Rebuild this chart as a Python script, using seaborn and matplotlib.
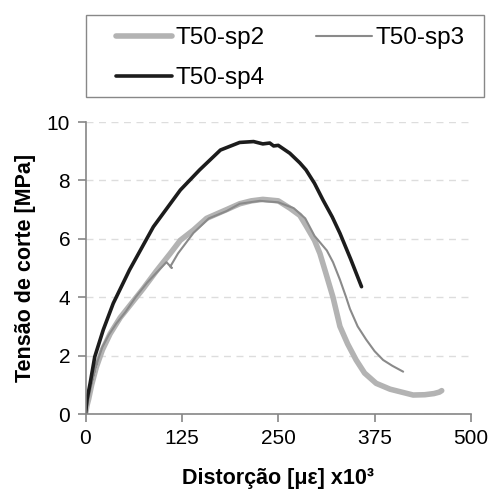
import matplotlib
matplotlib.use("Agg")
import matplotlib.pyplot as plt
from matplotlib.patches import Rectangle
import seaborn as sns
import pandas as pd

# Data
sp2_x = [0, 2, 4, 8, 14, 22, 32, 45, 57, 75, 92, 110, 123, 140, 157, 183, 200, 215, 230, 250, 265, 278, 286, 297, 304, 312, 321, 330, 340, 351, 362, 377, 395, 410, 425, 440, 452, 459, 462]
sp2_y = [0, 0.3, 0.5, 1.0, 1.6, 2.2, 2.75, 3.3, 3.7, 4.3, 4.9, 5.5, 5.95, 6.3, 6.7, 7.0, 7.2, 7.3, 7.35, 7.3, 7.05, 6.8, 6.45, 5.95, 5.5, 4.8, 4.0, 3.0, 2.4, 1.85, 1.4, 1.05, 0.85, 0.75, 0.65, 0.66, 0.7, 0.75, 0.8]

sp3_x = [0, 3, 6, 9, 7, 12, 10, 15, 13, 18, 22, 30, 40, 52, 65, 80, 96, 105, 112, 110, 120, 140, 160, 183, 200, 226, 250, 270, 285, 297, 305, 313, 321, 330, 338, 343, 353, 364, 375, 386, 398, 412]
sp3_y = [0, 0.4, 0.8, 1.2, 1.0, 1.5, 1.3, 1.8, 1.6, 2.0, 2.3, 2.7, 3.1, 3.5, 4.0, 4.5, 4.95, 5.2, 5.0, 5.05, 5.5, 6.2, 6.7, 6.95, 7.2, 7.3, 7.25, 7.05, 6.7, 6.1, 5.85, 5.6, 5.2, 4.6, 4.0, 3.6, 3.0, 2.55, 2.15, 1.85, 1.65, 1.45]

sp4_x = [0, 2, 6, 12, 23, 36, 57, 88, 123, 148, 175, 200, 218, 230, 239, 244, 250, 265, 278, 286, 297, 308, 320, 330, 344, 358]
sp4_y = [0, 0.5, 1.05, 1.96, 2.88, 3.79, 4.93, 6.41, 7.67, 8.36, 9.04, 9.30, 9.33, 9.25, 9.28, 9.18, 9.2, 8.93, 8.6, 8.36, 7.9, 7.33, 6.75, 6.19, 5.3, 4.36]

labels = ["T50-sp2", "T50-sp3", "T50-sp4"]
x_ticks = [0, 125, 250, 375, 500]
y_ticks = [0, 2, 4, 6, 8, 10]

sns.set_style("white")
plt.rcParams['font.family'] = ['Liberation Sans', 'DejaVu Sans']
plt.rcParams['text.color'] = 'black'
plt.rcParams['axes.labelcolor'] = 'black'
plt.rcParams['xtick.color'] = 'black'
plt.rcParams['ytick.color'] = 'black'

W, H = 492, 501
fig = plt.figure(figsize=(W/100, H/100), dpi=100)
ax = fig.add_axes([85.5/W, 87/H, (471-85.5)/W, (414-122)/H])

styles = [("#b3b3b3", 4.0), ("#8a8a8a", 1.5), ("#1c1c1c", 2.6)]
for (xs, ys), lab, (c, lw) in zip([(sp2_x, sp2_y), (sp3_x, sp3_y), (sp4_x, sp4_y)], labels, styles):
    df = pd.DataFrame({"x": xs, "y": ys})
    sns.lineplot(data=df, x="x", y="y", sort=False, estimator=None, color=c, linewidth=lw,
                 ax=ax, label=lab, solid_capstyle='round')

h, l = ax.get_legend_handles_labels()
ax.get_legend().remove()
order = [0, 2, 1]
fig.legend([h[i] for i in order], [l[i] for i in order], ncol=2, loc='upper left',
           bbox_to_anchor=(116/W, 1-27/H),
           fontsize=17.5, frameon=False, handlelength=2.3,
           handletextpad=0.15, borderaxespad=0, borderpad=0, labelspacing=0.75,
           columnspacing=2.1)
fig.patches.append(Rectangle((86/W, 1-97/H), (484-86)/W, (97-15)/H, transform=fig.transFigure,
                             fill=False, edgecolor='#888888', linewidth=1.0))

ax.set_xlim(0, 500)
ax.set_ylim(0, 10)
ax.set_xticks(x_ticks)
ax.set_yticks(y_ticks)
ax.tick_params(axis='both', labelsize=15, length=6, color='#868686', width=1.2, direction='out',
               pad=5, bottom=True, left=True)
ax.yaxis.grid(True, linestyle=(0, (5, 4)), color='#dddddd', linewidth=1)
ax.set_axisbelow(True)
for s in ['top', 'right']:
    ax.spines[s].set_visible(False)
for s in ['left', 'bottom']:
    ax.spines[s].set_color('#868686')
    ax.spines[s].set_linewidth(1.2)

ax.set_xlabel("Distorção [με] x10³", fontsize=15.5, fontweight='bold', labelpad=14)
ax.set_ylabel("Tensão de corte [MPa]", fontsize=15.5, fontweight='bold', labelpad=8)

fig.savefig("out.png", dpi=100)
